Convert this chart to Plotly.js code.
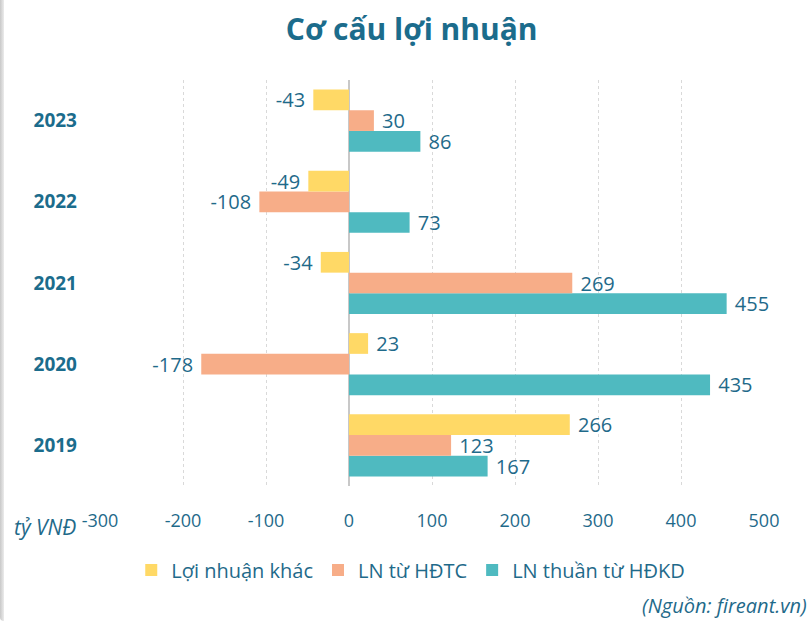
<!DOCTYPE html>
<html>
<head>
<meta charset="utf-8">
<script src="https://cdn.plot.ly/plotly-3.0.1.min.js"></script>
<style>
html,body{margin:0;padding:0;background:#fff;}
#wrap{position:relative;width:812px;height:621px;overflow:hidden;}
#edge{position:absolute;left:0;top:0;width:4px;height:621px;background:linear-gradient(to right,#c8c8c8,#ececec);z-index:5;border-bottom-left-radius:6px;}
#chart{position:absolute;left:0;top:0;width:812px;height:621px;}
</style>
</head>
<body>
<div id="wrap"><div id="edge"></div><div id="chart"></div></div>
<script>
const years = ['2019','2020','2021','2022','2023'];
const loiNhuanKhac = [266, 23, -34, -49, -43];
const lnHDTC = [123, -178, 269, -108, 30];
const lnThuanHDKD = [167, 435, 455, 73, 86];
const xTicks = [-300,-200,-100,0,100,200,300,400,500];

const textColor = '#1F6A8A';
const font = 'Open Sans, Noto Sans, sans-serif';
const pad = '\u00a0';

function mk(name, vals, color){
  return {
    type:'bar', orientation:'h', name:name, y:years, x:vals,
    text: vals.map(v => v < 0 ? String(v) + pad : pad + String(v)),
    textposition:'outside', cliponaxis:false,
    constraintext:'none', textangle:0,
    textfont:{color:textColor, size:20, family:font},
    marker:{color:color, line:{width:0}},
    hoverinfo:'x+name'
  };
}
const data = [
  mk('LN thuần từ HĐKD', lnThuanHDKD, '#4FBAC0'),
  mk('LN từ HĐTC', lnHDTC, '#F7AD88'),
  mk('Lợi nhuận khác', loiNhuanKhac, '#FFD966')
];
const layout = {
  width:812, height:621,
  margin:{l:100, r:48, t:80, b:135},
  paper_bgcolor:'#fff', plot_bgcolor:'#fff',
  font:{family:font, color:textColor},
  title:{text:'<b>Cơ cấu lợi nhuận</b>', x:0.507, xanchor:'center', y:0.952, yanchor:'middle',
         font:{size:30, color:'#1B6C8C', family:font}},
  barmode:'group', bargap:0.235, bargroupgap:0,
  showlegend:true,
  legend:{orientation:'h', x:0.468, xanchor:'center', y:-0.207, yanchor:'middle',
          traceorder:'reversed', font:{size:20, color:textColor}, itemwidth:30},
  xaxis:{range:[-300,500], tickvals:xTicks, ticktext:xTicks.map(String),
         showgrid:true, gridcolor:'#d9d9d9', griddash:'dot', gridwidth:1,
         zeroline:true, zerolinecolor:'#c8c8c8', zerolinewidth:2,
         showline:false, ticks:'', ticklabelstandoff:22,
         tickfont:{size:18, color:textColor}, fixedrange:true},
  yaxis:{type:'category', categoryorder:'array', categoryarray:years,
         showgrid:false, zeroline:false, showline:false, ticks:'',
         ticklabelstandoff:22, tickfont:{size:19, color:'#1B6C8C', family:font, weight:'bold'}},
  annotations:[
    {text:'<i>tỷ VNĐ</i>', xref:'paper', yref:'paper', x:-0.132, y:-0.1, xanchor:'left', yanchor:'middle',
     showarrow:false, font:{size:21, color:textColor}},
    {text:'<i>(Nguồn: fireant.vn)</i>', xref:'paper', yref:'paper', x:1.068, y:-0.295, xanchor:'right', yanchor:'middle',
     showarrow:false, font:{size:20, color:textColor}}
  ]
};
Plotly.newPlot('chart', data, layout, {displayModeBar:false, staticPlot:true});
</script>
</body>
</html>
